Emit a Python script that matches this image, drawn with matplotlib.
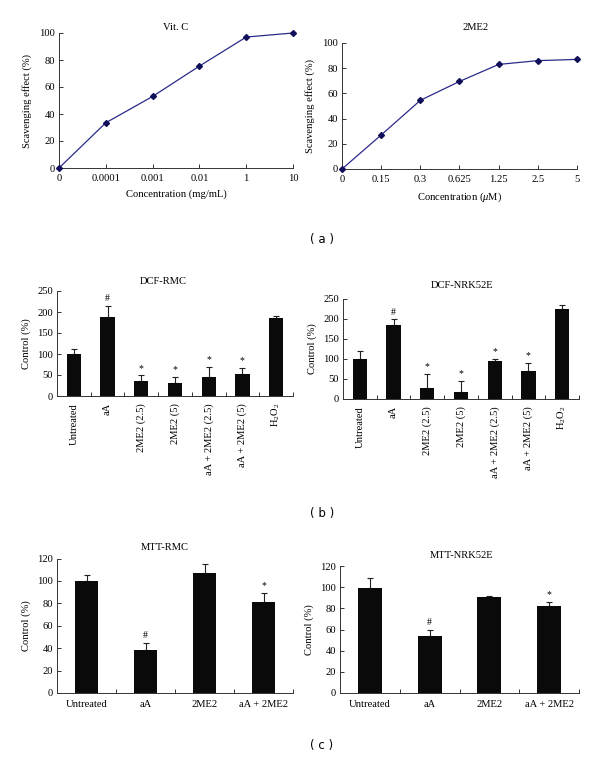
import matplotlib
matplotlib.use("Agg")
import matplotlib.pyplot as plt
import numpy as np

plt.rcParams['font.family'] = ['Liberation Serif', 'DejaVu Serif']
plt.rcParams['mathtext.fontset'] = 'custom'
plt.rcParams['mathtext.rm'] = 'Liberation Serif'
plt.rcParams['mathtext.it'] = 'Liberation Serif:italic'
FS = 7.6
plt.rcParams['font.size'] = FS

# ---- data ----
vitc_labels = ['0', '0.0001', '0.001', '0.01', '1', '10']
vitc_values = [0, 33.5, 53, 75.5, 97, 100]

me2_labels = ['0', '0.15', '0.3', '0.625', '1.25', '2.5', '5']
me2_values = [0, 27, 54.5, 69.5, 83, 86, 87]

dcf_labels = ['Untreated', 'aA', '2ME2 (2.5)', '2ME2 (5)', 'aA + 2ME2 (2.5)',
              'aA + 2ME2 (5)', r'H$_2$O$_2$']
dcf_rmc_values = [101, 187, 35, 31, 45, 52, 185]
dcf_rmc_err = [12, 27, 14, 14, 24, 14, 5]
dcf_rmc_marks = ['', '#', '*', '*', '*', '*', '']

dcf_nrk_values = [101, 185, 27, 18, 96, 69, 226]
dcf_nrk_err = [19, 14, 36, 27, 5, 21, 10]
dcf_nrk_marks = ['', '#', '*', '*', '*', '*', '']

mtt_labels = ['Untreated', 'aA', '2ME2', 'aA + 2ME2']
mtt_rmc_values = [100, 38, 107, 81]
mtt_rmc_err = [5, 7, 8, 8]
mtt_rmc_marks = ['', '#', '', '*']

mtt_nrk_values = [99, 54, 91, 82]
mtt_nrk_err = [10, 6, 1, 4]
mtt_nrk_marks = ['', '#', '', '*']

W, H = 600, 762
fig = plt.figure(figsize=(6, 7.62), dpi=100)


def add_ax(x0, y0, x1, y1):
    return fig.add_axes([x0 / W, 1 - y1 / H, (x1 - x0) / W, (y1 - y0) / H])


def style(ax):
    for s in ['top', 'right']:
        ax.spines[s].set_visible(False)
    for s in ['left', 'bottom']:
        ax.spines[s].set_linewidth(0.7)
        ax.spines[s].set_color('#333333')
    ax.tick_params(direction='in', length=3, width=0.7, labelsize=FS, pad=3,
                   colors='#333333', labelcolor='black')


def line_panel(ax, labels, values, title, xlabel, title_xy):
    x = np.arange(len(labels))
    ax.plot(x, values, color='#2a2a8a', lw=0.9, marker='D', ms=3,
            mfc='#10105a', mec='#10105a', clip_on=False, zorder=3)
    ax.set_xlim(0, len(labels) - 1)
    ax.set_ylim(0, 100)
    ax.set_yticks(np.arange(0, 101, 20))
    ax.set_xticks(x)
    ax.set_xticklabels(labels)
    ax.set_xlabel(xlabel, fontsize=FS, labelpad=5)
    ax.set_ylabel('Scavenging effect (%)', fontsize=FS, labelpad=5)
    style(ax)
    ax.tick_params(axis='x', pad=4)
    fig.text(title_xy[0] / W, 1 - title_xy[1] / H, title, ha='center',
             va='center', fontsize=FS)


def bar_panel(ax, labels, values, err, marks, ylim, ystep, title, title_xy,
              rotate, width):
    x = np.arange(len(labels))
    ax.bar(x, values, width=width, color='#0a0a0a', zorder=2)
    ax.errorbar(x, values, yerr=[np.zeros(len(err)), err], fmt='none',
                ecolor='#222222', elinewidth=0.8, capsize=2.5, capthick=0.8,
                zorder=1)
    for xi, v, e, m in zip(x, values, err, marks):
        if m:
            ax.annotate(m, (xi, v + e), xytext=(0, 2), textcoords='offset points',
                        ha='center', va='bottom', fontsize=7)
    ax.set_xlim(-0.5, len(labels) - 0.5)
    ax.set_ylim(0, ylim)
    ax.set_yticks(np.arange(0, ylim + 1, ystep))
    ax.set_xticks(x)
    ax.set_xticklabels(labels, rotation=90 if rotate else 0)
    ax.set_xticks(np.arange(0.5, len(labels) - 0.4, 1), minor=True)
    ax.set_ylabel('Control (%)', fontsize=FS, labelpad=4)
    style(ax)
    ax.tick_params(axis='x', which='major', length=0, pad=5)
    ax.tick_params(axis='x', which='minor', direction='in', length=3, width=0.7,
                   color='#333333')
    fig.text(title_xy[0] / W, 1 - title_xy[1] / H, title, ha='center',
             va='center', fontsize=FS)


ax1 = add_ax(59, 33, 293, 168)
line_panel(ax1, vitc_labels, vitc_values, 'Vit. C', 'Concentration (mg/mL)', (176, 27))
ax2 = add_ax(342, 43, 577, 169)
line_panel(ax2, me2_labels, me2_values, '2ME2', r'Concentration ($\mathit{\mu}$M)', (476, 27))

ax3 = add_ax(57, 291, 293, 396)
bar_panel(ax3, dcf_labels, dcf_rmc_values, dcf_rmc_err, dcf_rmc_marks, 250, 50,
          'DCF-RMC', (163, 282), True, 0.42)
ax4 = add_ax(343, 299, 579, 399)
bar_panel(ax4, dcf_labels, dcf_nrk_values, dcf_nrk_err, dcf_nrk_marks, 250, 50,
          'DCF-NRK52E', (462, 285), True, 0.42)

ax5 = add_ax(57, 558.5, 293, 693)
bar_panel(ax5, mtt_labels, mtt_rmc_values, mtt_rmc_err, mtt_rmc_marks, 120, 20,
          'MTT-RMC', (165, 548), False, 0.4)
ax6 = add_ax(340, 566, 579, 693)
bar_panel(ax6, mtt_labels, mtt_nrk_values, mtt_nrk_err, mtt_nrk_marks, 120, 20,
          'MTT-NRK52E', (462, 556), False, 0.4)

for lab, y in [('( a )', 239), ('( b )', 513), ('( c )', 745)]:
    fig.text(322 / W, 1 - y / H, lab, ha='center', va='center', fontsize=8.5,
             family='DejaVu Sans')

fig.savefig('out.png', dpi=100, facecolor='white')
